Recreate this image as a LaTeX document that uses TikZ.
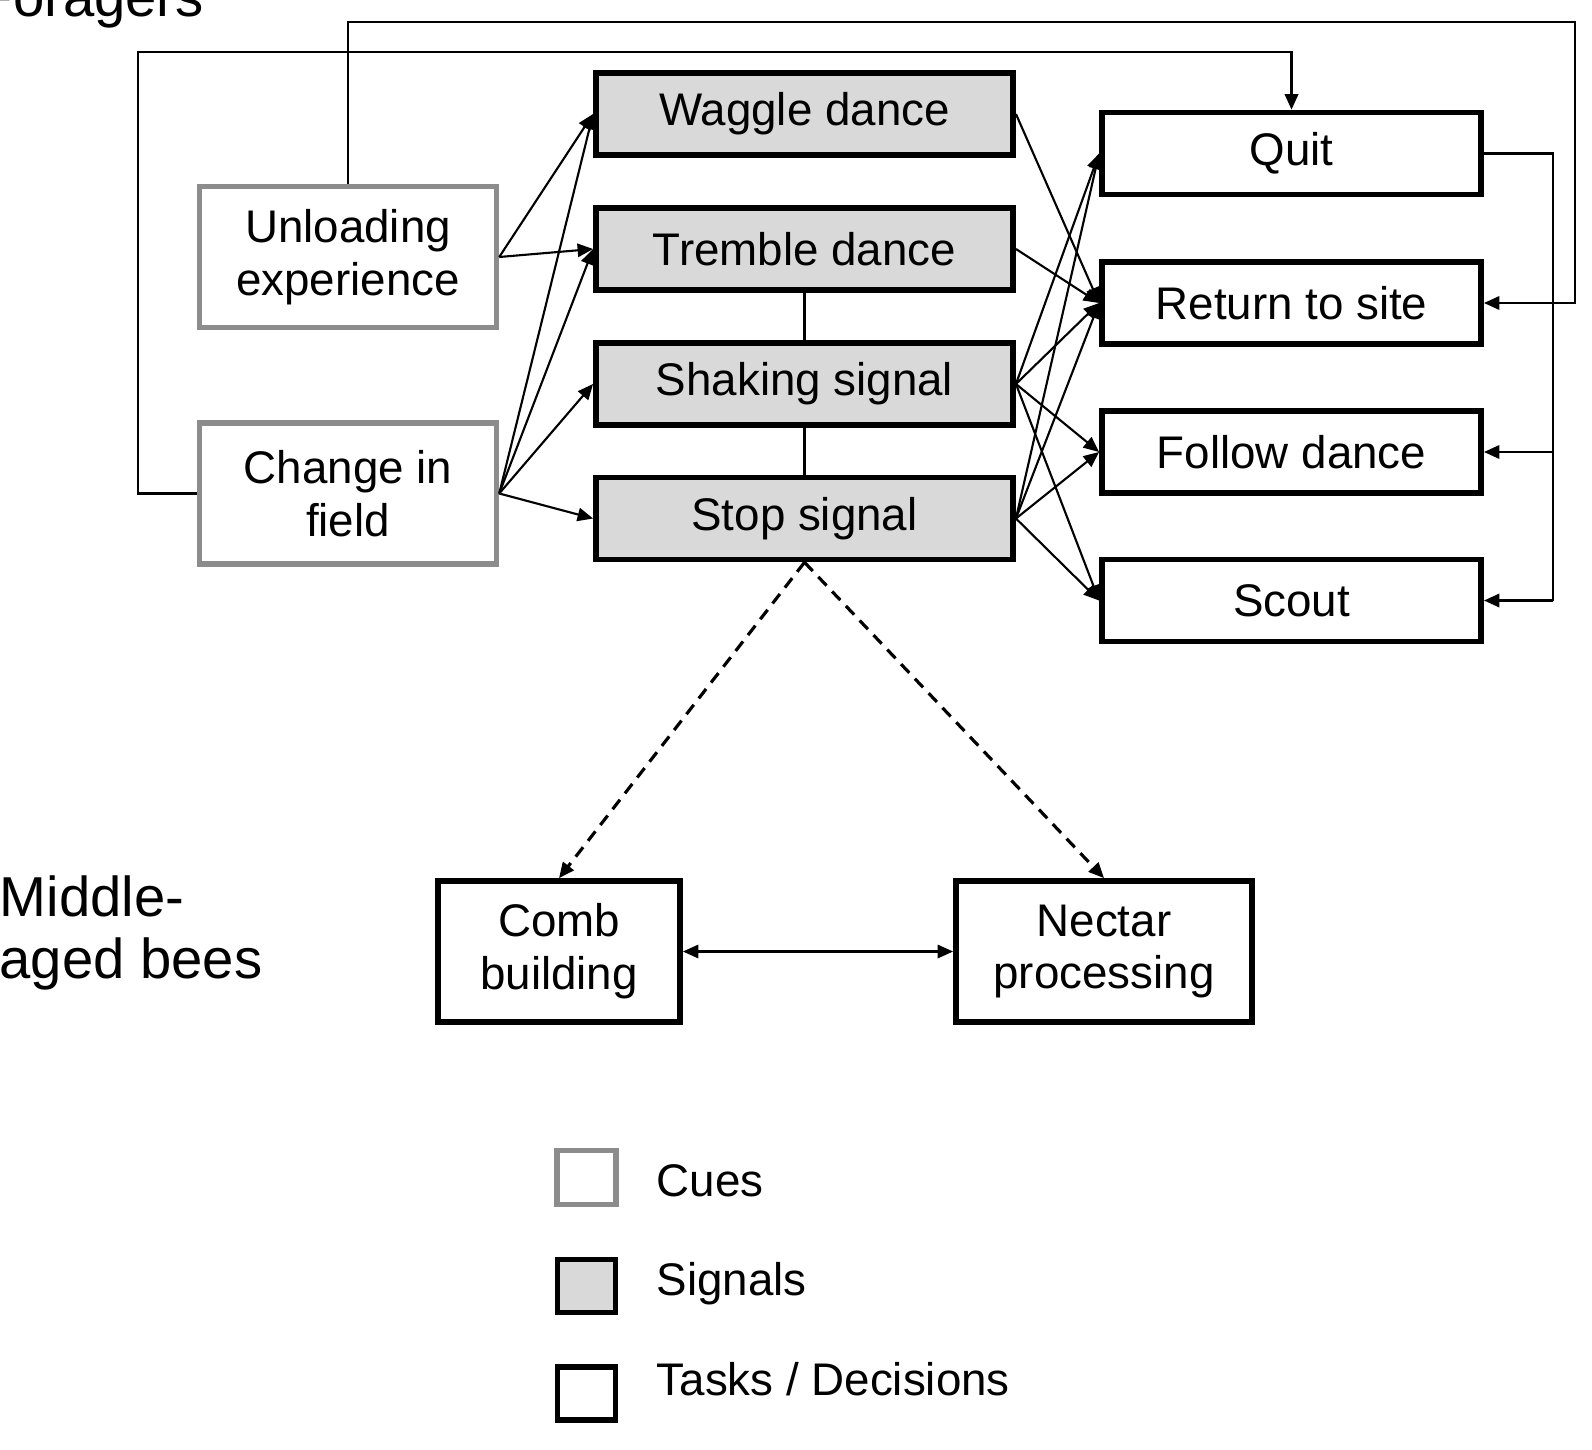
\documentclass[tikz,border=0pt]{standalone}
\usepackage{fontspec}
\setmainfont{Liberation Sans}
\usetikzlibrary{arrows.meta}
\definecolor{cuegray}{HTML}{8C8C8C}
\definecolor{siggray}{HTML}{D9D9D9}
\begin{document}
\begin{tikzpicture}[x=0.01cm,y=-0.01cm,
  txt/.style={font=\fontsize{13pt}{15pt}\selectfont, align=center, inner sep=0pt},
  bigtxt/.style={font=\fontsize{16pt}{18pt}\selectfont, inner sep=0pt, anchor=base west},
  legtxt/.style={font=\fontsize{13pt}{15pt}\selectfont, inner sep=0pt, anchor=base west},
  cuebox/.style={txt, draw=cuegray, line width=1.5pt, minimum width=2.97cm, minimum height=1.41cm},
  sigbox/.style={txt, draw=black, fill=siggray, line width=1.6pt, minimum width=4.17cm, minimum height=0.82cm},
  taskbox/.style={txt, draw=black, line width=1.6pt, minimum width=3.79cm, minimum height=0.82cm},
  tip/.style={-{Triangle[length=4.4pt,width=3.8pt]}},
  conn/.style={line width=0.6pt, tip},
  loopline/.style={line width=0.7pt},
  dasharrow/.style={line width=0.9pt, dash pattern=on 3.4pt off 2.3pt, tip},
  link/.style={line width=1.1pt}
  ]
\path[use as bounding box, fill=white] (0,0) rectangle (1592,1449);

% group labels
\node[bigtxt] (forag) at (-22,17) {Foragers};
\node[bigtxt] (mid1) at (-1,916) {Middle-};
\node[bigtxt] (mid2) at (-1,978) {aged bees};

% cues
\node[cuebox] (unl) at (348,257) {Unloading\\experience};
\node[cuebox] (chg) at (348,493.5) {Change in\\field};

% signals
\node[sigbox] (wag) at (804.5,114) {Waggle dance};
\node[sigbox] (tre) at (804.5,249) {Tremble dance};
\node[sigbox] (sha) at (804.5,384) {Shaking signal};
\node[sigbox] (stp) at (804.5,518.5) {Stop signal};

% decisions
\node[taskbox] (quit) at (1291.5,153.5) {Quit};
\node[taskbox] (ret) at (1291.5,303) {Return to site};
\node[taskbox] (fol) at (1291.5,452) {Follow dance};
\node[taskbox] (sco) at (1291.5,600.5) {Scout};

% middle-aged tasks
\node[taskbox, minimum width=2.42cm, minimum height=1.41cm] (comb) at (559,951.5) {Comb\\building};
\node[taskbox, minimum width=2.96cm, minimum height=1.41cm] (nec) at (1104,951.5) {Nectar\\processing};

% legend
\node[cuebox, minimum width=0.59cm, minimum height=0.54cm] (lc) at (586.5,1177.5) {};
\node[sigbox, minimum width=0.58cm, minimum height=0.53cm] (ls) at (586.5,1286) {};
\node[taskbox, minimum width=0.58cm, minimum height=0.53cm] (lt) at (586.5,1393.5) {};
\node[legtxt] (lct) at (656,1196) {Cues};
\node[legtxt] (lst) at (656,1295) {Signals};
\node[legtxt] (ltt) at (656,1395) {Tasks / Decisions};

% signal links
\draw[link] (tre.south) -- (sha.north);
\draw[link] (sha.south) -- (stp.north);

% cues -> signals
\draw[conn] (unl.east) -- (wag.west);
\draw[conn] (unl.east) -- (tre.west);
\draw[conn] (chg.east) -- (wag.west);
\draw[conn] (chg.east) -- (tre.west);
\draw[conn] (chg.east) -- (sha.west);
\draw[conn] (chg.east) -- (stp.west);

% signals -> decisions
\draw[conn] (wag.east) -- (ret.west);
\draw[conn] (tre.east) -- (ret.west);
\foreach \d in {quit,ret,fol,sco}{
  \draw[conn] (sha.east) -- (\d.west);
  \draw[conn] (stp.east) -- (\d.west);
}

% loops
\coordinate (topR) at (1575,22);
\coordinate (topL) at (138,52);
\coordinate (rbot) at (1553,600.5);
\draw[loopline, tip] (unl.north) |- (topR) |- (ret.east);
\draw[loopline, tip] (chg.west) -| (topL) -| (quit.north);
\draw[loopline] (quit.east) -| (rbot);
\draw[loopline, tip] (rbot) -- (sco.east);
\draw[loopline, tip] (fol.east -| rbot) -- (fol.east);

% stop signal -> middle-aged tasks
\draw[dasharrow] (stp.south) -- (comb.north);
\draw[dasharrow] (stp.south) -- (nec.north);
\draw[conn, {Triangle[length=4.4pt,width=3.8pt]}-{Triangle[length=4.4pt,width=3.8pt]}] (comb.east) -- (nec.west);
\end{tikzpicture}
\end{document}
